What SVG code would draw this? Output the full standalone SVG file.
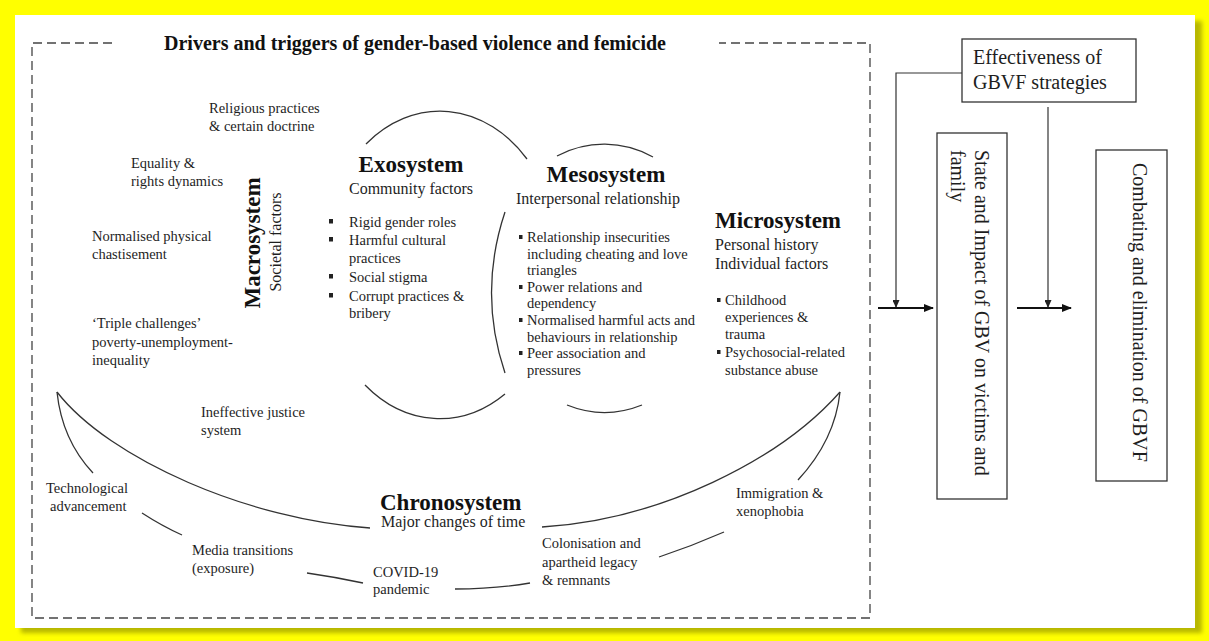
<svg xmlns="http://www.w3.org/2000/svg" width="1209" height="641" viewBox="0 0 1209 641">
<defs>
<filter id="blur" x="-5%" y="-5%" width="110%" height="110%"><feGaussianBlur stdDeviation="2"/></filter>
<marker id="ah" markerWidth="10" markerHeight="8" refX="9" refY="4" orient="auto" markerUnits="userSpaceOnUse"><path d="M0,0 L10,4 L0,8 Z" fill="#111"/></marker>
<marker id="ahs" markerWidth="8" markerHeight="7" refX="7" refY="3.5" orient="auto" markerUnits="userSpaceOnUse"><path d="M0,0 L8,3.5 L0,7 Z" fill="#222"/></marker>
<style>
text{font-family:"Liberation Serif","Times New Roman",serif;fill:#1e1e1e}
.t{font-size:14.5px}
.h{font-size:23px;font-weight:bold;fill:#111}
.s{font-size:16px}
.b{font-size:20px}
.arc{fill:none;stroke:#333;stroke-width:1.3}
.box{fill:#fff;stroke:#333;stroke-width:1.3}
.bul{fill:#222}
.ln{fill:none;stroke:#333;stroke-width:1.2}
.ar{fill:none;stroke:#111;stroke-width:2}
</style>
</defs>
<rect x="0" y="0" width="1209" height="641" fill="#ffff00"/>
<rect x="21" y="21" width="1181" height="612" fill="#b8b800" filter="url(#blur)"/>
<rect x="15" y="15" width="1180" height="613" fill="#ffffff"/>

<g id="frame">
<path d="M112,43 H32 V618 H870 V43 H719" fill="none" stroke="#444" stroke-width="1.3" stroke-dasharray="9,5"/>
<text x="415" y="50" text-anchor="middle" style="font-size:20px;font-weight:bold;fill:#111">Drivers and triggers of gender-based violence and femicide</text>
</g>

<g id="macrosystem">
<text class="h" transform="translate(260,243) rotate(-90)" text-anchor="middle">Macrosystem</text>
<text class="s" transform="translate(281,242) rotate(-90)" text-anchor="middle">Societal factors</text>
<text class="t" x="209" y="113">Religious practices</text>
<text class="t" x="209" y="131">&amp; certain doctrine</text>
<text class="t" x="131" y="168">Equality &amp;</text>
<text class="t" x="131" y="186">rights dynamics</text>
<text class="t" x="92" y="241">Normalised physical</text>
<text class="t" x="92" y="259">chastisement</text>
<text class="t" x="92" y="328">‘Triple challenges’</text>
<text class="t" x="92" y="347">poverty-unemployment-</text>
<text class="t" x="92" y="365">inequality</text>
<text class="t" x="201" y="417">Ineffective justice</text>
<text class="t" x="201" y="435">system</text>
</g>

<g id="exosystem">
<path class="arc" d="M366,144 A120,154 0 0 1 527,159"/>
<path class="arc" d="M365,385 A120,154 0 0 0 505,394"/>
<text class="h" x="411" y="172" text-anchor="middle">Exosystem</text>
<text class="s" x="411" y="194" text-anchor="middle">Community factors</text>
<rect class="bul" x="329" y="219" width="4" height="4.5"/>
<text class="t" x="349" y="227">Rigid gender roles</text>
<rect class="bul" x="329" y="237" width="4" height="4.5"/>
<text class="t" x="349" y="245">Harmful cultural</text>
<text class="t" x="349" y="263">practices</text>
<rect class="bul" x="329" y="274" width="4" height="4.5"/>
<text class="t" x="349" y="282">Social stigma</text>
<rect class="bul" x="329" y="293" width="4" height="4.5"/>
<text class="t" x="349" y="301">Corrupt practices &amp;</text>
<text class="t" x="349" y="318">bribery</text>
</g>

<g id="mesosystem">
<path class="arc" d="M557,156 A115,134.5 0 0 1 653,157"/>
<path class="arc" d="M505,212 Q478,293 505,373"/>
<path class="arc" d="M567,405 A115,134.5 0 0 0 642,405"/>
<text class="h" x="606" y="182" text-anchor="middle">Mesosystem</text>
<text class="s" x="598" y="204" text-anchor="middle">Interpersonal relationship</text>
<rect class="bul" x="519" y="235" width="3.5" height="4"/>
<text class="t" x="527" y="242">Relationship insecurities</text>
<text class="t" x="527" y="259">including cheating and love</text>
<text class="t" x="527" y="275">triangles</text>
<rect class="bul" x="519" y="285" width="3.5" height="4"/>
<text class="t" x="527" y="292">Power relations and</text>
<text class="t" x="527" y="308">dependency</text>
<rect class="bul" x="519" y="318" width="3.5" height="4"/>
<text class="t" x="527" y="325">Normalised harmful acts and</text>
<text class="t" x="527" y="342">behaviours in relationship</text>
<rect class="bul" x="519" y="351" width="3.5" height="4"/>
<text class="t" x="527" y="358">Peer association and</text>
<text class="t" x="527" y="375">pressures</text>
</g>

<g id="microsystem">
<text class="h" x="715" y="228">Microsystem</text>
<text class="s" x="715" y="250">Personal history</text>
<text class="s" x="715" y="269">Individual factors</text>
<rect class="bul" x="717" y="298" width="3.5" height="4"/>
<text class="t" x="725" y="305">Childhood</text>
<text class="t" x="725" y="322">experiences &amp;</text>
<text class="t" x="725" y="339">trauma</text>
<rect class="bul" x="717" y="350" width="3.5" height="4"/>
<text class="t" x="725" y="357">Psychosocial-related</text>
<text class="t" x="725" y="375">substance abuse</text>
</g>

<g id="chronosystem">
<path class="arc" d="M57,392 Q62,440 93,473"/>
<path class="arc" d="M57,392 C110,460 250,520 370,528"/>
<path class="arc" d="M840,392 Q835,440 798,480"/>
<path class="arc" d="M542,527 C660,520 780,460 840,392"/>
<path class="arc" d="M142,513 Q162,526 182,535"/>
<path class="arc" d="M307,573 Q335,577 363,583"/>
<path class="arc" d="M455,589 Q495,589 530,583"/>
<path class="arc" d="M659,557 Q692,546 724,532"/>
<text class="h" x="380" y="510">Chronosystem</text>
<text class="s" x="381" y="527">Major changes of time</text>
<text class="t" x="46" y="493">Technological</text>
<text class="t" x="50" y="511">advancement</text>
<text class="t" x="192" y="555">Media transitions</text>
<text class="t" x="192" y="573">(exposure)</text>
<text class="t" x="373" y="577">COVID-19</text>
<text class="t" x="373" y="594">pandemic</text>
<text class="t" x="542" y="548">Colonisation and</text>
<text class="t" x="542" y="567">apartheid legacy</text>
<text class="t" x="542" y="585">&amp; remnants</text>
<text class="t" x="736" y="498">Immigration &amp;</text>
<text class="t" x="736" y="516">xenophobia</text>
</g>

<g id="effectiveness">
<rect class="box" x="962" y="39" width="174" height="63"/>
<text class="b" x="973" y="64">Effectiveness of</text>
<text class="b" x="973" y="89">GBVF strategies</text>
</g>

<g id="state-impact">
<rect class="box" x="937" y="133" width="70" height="366"/>
<text class="b" transform="translate(975,150) rotate(90)">State and Impact of GBV on victims and</text>
<text class="b" transform="translate(951,150) rotate(90)">family</text>
</g>

<g id="combating">
<rect class="box" x="1096" y="150" width="71" height="331"/>
<text class="b" transform="translate(1133,163) rotate(90)">Combating and elimination of GBVF</text>
</g>

<g id="connectors">
<path class="ln" d="M962,73 H896 V307" marker-end="url(#ahs)"/>
<path class="ln" d="M1048,107 V307" marker-end="url(#ahs)"/>
<path class="ar" d="M878,308 H933" marker-end="url(#ah)"/>
<path class="ar" d="M1017,308 H1071" marker-end="url(#ah)"/>
</g>
</svg>
